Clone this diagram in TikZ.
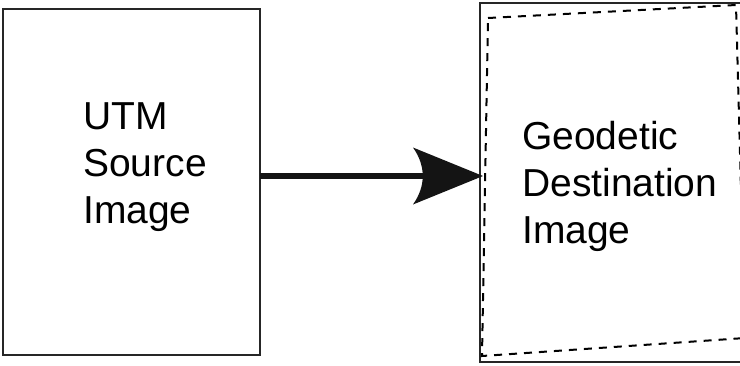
\documentclass[tikz,border=0pt]{standalone}
\usepackage{fontspec}
\setmainfont{Liberation Sans}
\usetikzlibrary{arrows.meta}
% arrow head with a concave, rounded back
\pgfdeclarearrow{
  name = Swoop,
  setup code = {
    \pgfarrowssettipend{0pt}
    \pgfarrowssetlineend{-58pt}
    \pgfarrowssetvisualbackend{-70pt}
    \pgfarrowssetbackend{-70pt}
    \pgfarrowshullpoint{0pt}{0pt}
    \pgfarrowshullpoint{-70pt}{28.5pt}
    \pgfarrowshullpoint{-70pt}{-28.5pt}
  },
  drawing code = {
    \pgfpathmoveto{\pgfpoint{0pt}{0pt}}
    \pgfpathlineto{\pgfpoint{-70pt}{28.5pt}}
    \pgfpathcurveto{\pgfpoint{-57pt}{10pt}}{\pgfpoint{-57pt}{-10pt}}{\pgfpoint{-70pt}{-28.5pt}}
    \pgfpathclose
    \pgfusepathqfill
  }
}
\begin{document}
\begin{tikzpicture}[x=1pt, y=-1pt,
  frame/.style={draw=black!85, line width=1.3pt, inner sep=0pt, outer sep=0pt},
  warp/.style={draw=black, line width=2pt, dash pattern=on 8pt off 7pt},
  label/.style={align=left, inner sep=0pt, anchor=base west,
    font=\fontsize{39}{47}\selectfont},
  flow/.style={line width=6pt, draw=black!92, -{Swoop[]}}]
  \useasboundingbox (0,0) rectangle (740,365);
  % source image frame; labels are placed by the baseline of their last line
  \node[frame, minimum width=257pt, minimum height=346pt] (src) at (131.5,182) {};
  \node[label] (srctext) at (83,223) {UTM\\Source\\Image};
  % destination image frame (runs past the right edge)
  \node[frame, minimum width=280pt, minimum height=359pt] (dst) at (620,182.5) {};
  % warped footprint of the source inside the destination
  \coordinate (q1) at (488,18);
  \coordinate (q2) at (736,5);
  \coordinate (q3) at (745,338);
  \coordinate (q4) at (482,356);
  \draw[warp] (q1) -- (q2) -- (q3) -- (q4) -- cycle;
  \node[label] (dsttext) at (522,243) {Geodetic\\Destination\\Image};
  % transformation arrow
  \coordinate (tip) at (483,176);
  \draw[flow] (src.east |- tip) -- (tip);
\end{tikzpicture}
\end{document}
